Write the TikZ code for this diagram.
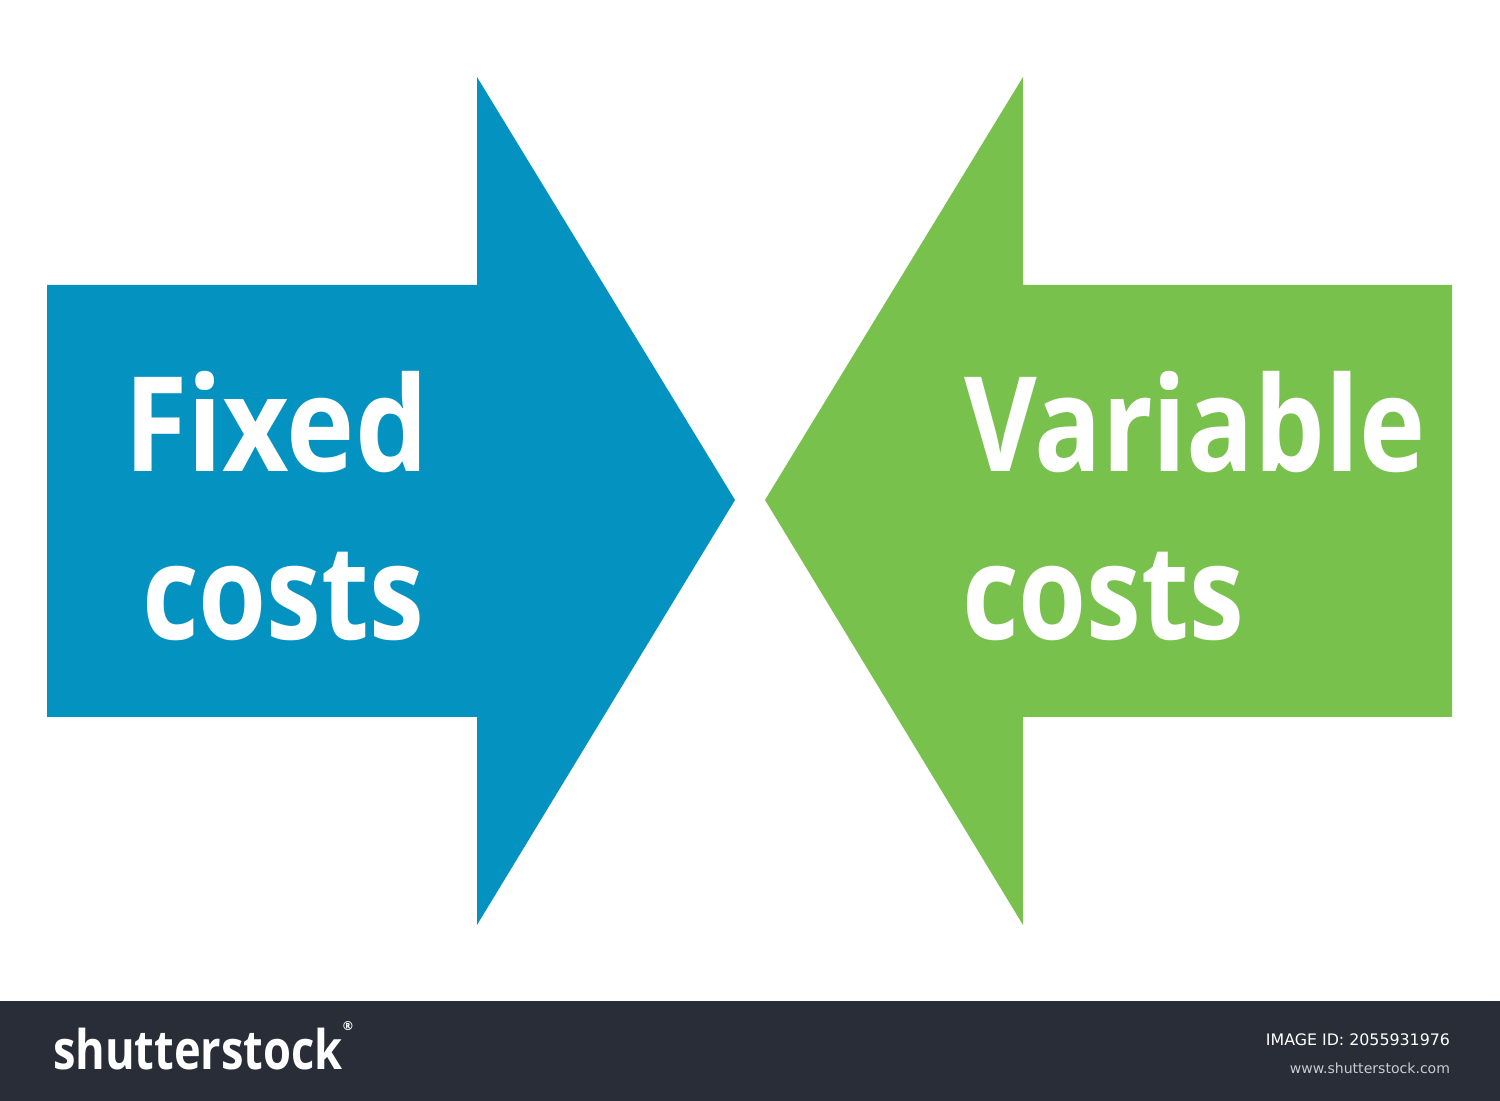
\documentclass[tikz,border=0pt]{standalone}
\usepackage{fontspec}
\setmainfont{Open Sans}
\newfontfamily\footfont{DejaVu Sans}
\definecolor{fixedblue}{RGB}{4,147,192}
\definecolor{vargreen}{RGB}{120,193,76}
\definecolor{footbar}{RGB}{40,45,56}
\definecolor{footgrey}{RGB}{200,203,208}
\newcommand{\squeeze}[2]{\scalebox{#1}[1]{#2}}

\begin{document}
\begin{tikzpicture}
[x=0.01cm,y=-0.01cm,%
  every node/.style={inner sep=0pt,outer sep=0pt},%
  bigword/.style={text=white,font=\fontsize{37.5}{40}\selectfont\bfseries,anchor=base west},%
  footnote/.style={font=\footfont\fontsize{4.5}{6}\selectfont,anchor=base east}]
\useasboundingbox (0,0) rectangle (1500,1101);
\fill[white] (0,0) rectangle (1500,1101);
% arrows
\fill[fixedblue] (47,285) -- (477,285) -- (477,77) -- (735,500)
  -- (477,925) -- (477,717) -- (47,717) -- cycle;
\fill[vargreen] (1452,285) -- (1023,285) -- (1023,77) -- (765,500)
  -- (1023,925) -- (1023,717) -- (1452,717) -- cycle;
% labels
\node[bigword] (fixed) at (124,472) {\squeeze{0.875}{Fixed}};
\node[bigword] (fixedcosts) at (142,640) {\squeeze{0.835}{costs}};
\node[bigword] (variable) at (964,472) {\squeeze{0.848}{Variable}};
\node[bigword] (varcosts) at (962,640) {\squeeze{0.835}{costs}};
% footer
\fill[footbar] (0,1001) rectangle (1500,1101);
\node[text=white,font=\fontsize{15.5}{18}\selectfont\bfseries,anchor=base west]
  (logo) at (53,1069) {\squeeze{0.83}{shutterstock}\raisebox{1.3ex}{\fontsize{3.5}{4}\selectfont ®}};
\node[footnote,text=white] (imageid) at (1450,1045) {IMAGE ID: 2055931976};
\node[footnote,text=footgrey,font=\footfont\fontsize{4}{5}\selectfont] (site) at (1450,1073) {www.shutterstock.com};
\end{tikzpicture}
\end{document}
